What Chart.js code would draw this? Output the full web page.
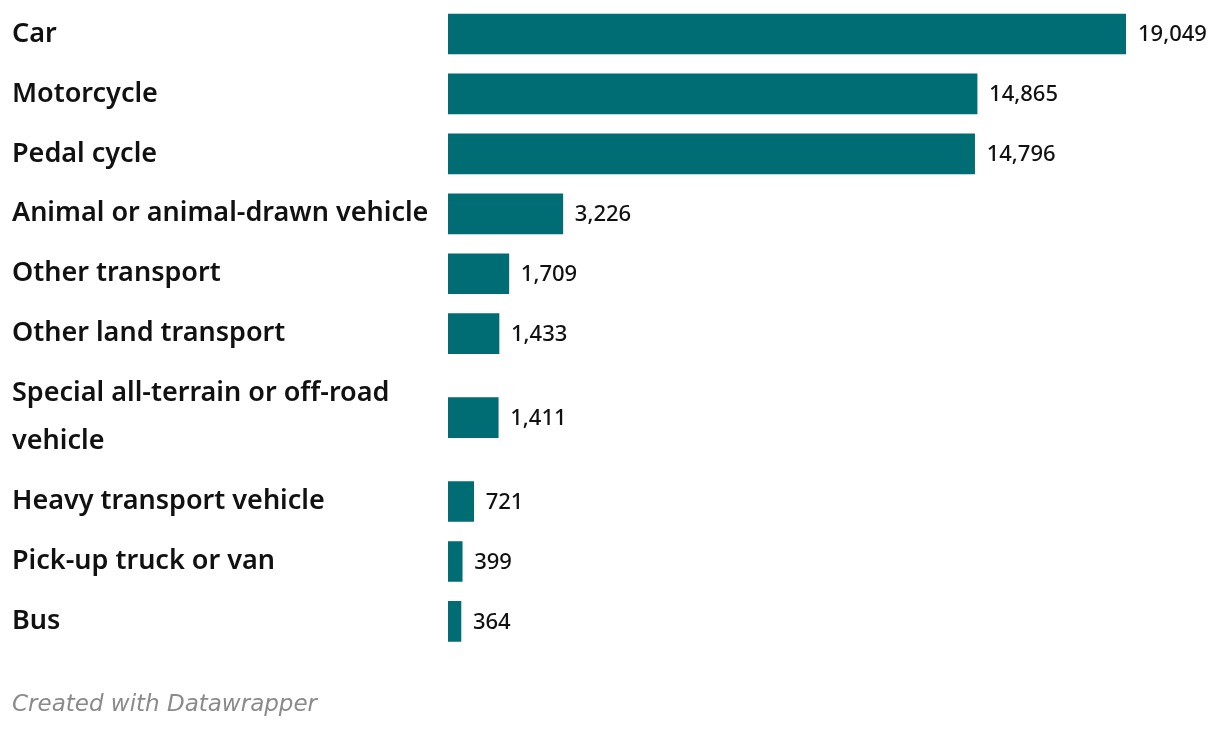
<!DOCTYPE html>
<html>
<head>
<meta charset="utf-8">
<script src="https://cdn.jsdelivr.net/npm/chart.js@4/dist/chart.umd.min.js"></script>
<style>
  html, body { margin: 0; padding: 0; background: #fff; }
  #doboz { width: 1220px; height: 732px; }
</style>
</head>
<body>
<div id="doboz"><canvas id="diagram"></canvas></div>
<script>
// Kategóriák (a hosszú címke két sorban)
const kategoriak = [
  'Car',
  'Motorcycle',
  'Pedal cycle',
  'Animal or animal-drawn vehicle',
  'Other transport',
  'Other land transport',
  ['Special all-terrain or off-road', 'vehicle'],
  'Heavy transport vehicle',
  'Pick-up truck or van',
  'Bus'
];

// Értékek
const ertekek = [19049, 14865, 14796, 3226, 1709, 1433, 1411, 721, 399, 364];

const lablec = 'Created with Datawrapper';

const szam = new Intl.NumberFormat('en-US');

// Kategória skála, ahol a többsoros címke magasabb sort kap
class SorSkala extends Chart.CategoryScale {
  sorSulyok() {
    return this.getLabels().map(l => Array.isArray(l) ? 1 + 0.8 * (l.length - 1) : 1);
  }
  getPixelForValue(value) {
    if (typeof value !== 'number') value = this.parse(value);
    if (value === null || value === undefined || isNaN(value)) return NaN;
    const s = this.sorSulyok();
    const ossz = s.reduce((a, b) => a + b, 0);
    const egyseg = (this.bottom - this.top) / ossz;
    let elotte = 0;
    for (let i = 0; i < value && i < s.length; i++) elotte += s[i];
    return this.top + (elotte + (s[value] || 1) / 2) * egyseg;
  }
}
SorSkala.id = 'sorok';
SorSkala.defaults = Chart.CategoryScale.defaults;
Chart.register(SorSkala);

// Értékfeliratok a sávok végén
const ertekFelirat = {
  id: 'ertekFelirat',
  afterDatasetsDraw(chart) {
    const ctx = chart.ctx;
    const meta = chart.getDatasetMeta(0);
    ctx.save();
    ctx.font = '500 22px "Noto Sans"';
    ctx.fillStyle = '#111';
    ctx.textAlign = 'left';
    ctx.textBaseline = 'middle';
    meta.data.forEach((sav, i) => {
      ctx.fillText(szam.format(ertekek[i]), sav.x + 12, sav.y + 1);
    });
    ctx.restore();
  }
};

new Chart(document.getElementById('diagram'), {
  type: 'bar',
  data: {
    labels: kategoriak,
    datasets: [{
      data: ertekek,
      backgroundColor: '#006c73',
      borderWidth: 0,
      barThickness: 40
    }]
  },
  options: {
    indexAxis: 'y',
    responsive: true,
    maintainAspectRatio: false,
    animation: false,
    layout: { padding: { left: 12, right: 94, top: 4, bottom: 0 } },
    scales: {
      x: {
        display: false,
        min: 0,
        max: Math.max(...ertekek)
      },
      y: {
        type: 'sorok',
        offset: true,
        grid: { display: false },
        border: { display: false },
        afterFit: s => {
          s.width = 436;
          s.paddingTop = 0;
          s.paddingBottom = 0;
        },
        ticks: {
          autoSkip: false,
          crossAlign: 'far',
          color: '#111',
          font: { family: '"Noto Sans"', size: 27, weight: '600', lineHeight: '48px' }
        }
      }
    },
    plugins: {
      legend: { display: false },
      tooltip: { enabled: false },
      title: {
        display: true,
        text: lablec,
        position: 'bottom',
        align: 'start',
        color: '#8a8a8a',
        font: { family: '"DejaVu Sans"', size: 23, style: 'italic', weight: '400', lineHeight: 1.2 },
        padding: { top: 40, bottom: 13 }
      }
    }
  },
  plugins: [ertekFelirat]
});
</script>
</body>
</html>
